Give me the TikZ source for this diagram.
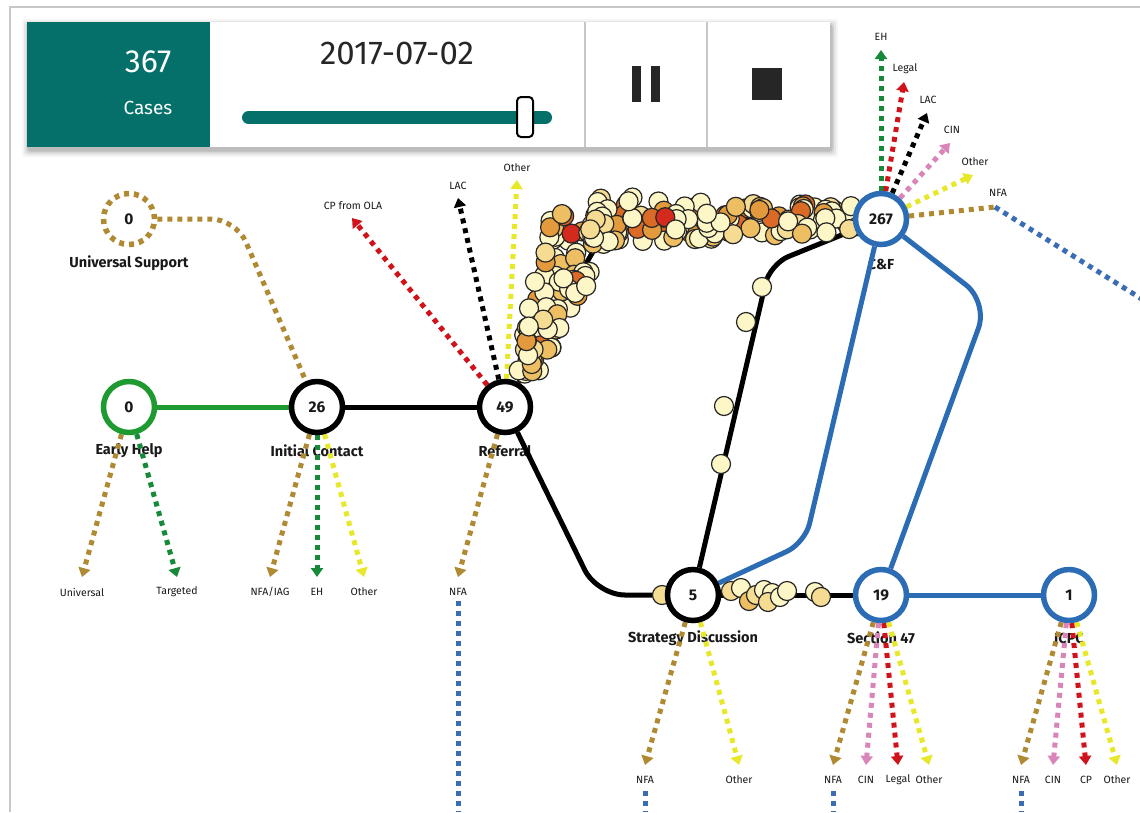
\documentclass[tikz,border=0pt]{standalone}
\usepackage{fontspec}
\setmainfont{Fira Sans}
\usetikzlibrary{arrows.meta,calc}
\definecolor{teal1}{HTML}{05706A}
\definecolor{brownc}{HTML}{B08A33}
\definecolor{greenc}{HTML}{178A3A}
\definecolor{yellowc}{HTML}{E8E82A}
\definecolor{redc}{HTML}{D0121B}
\definecolor{pinkc}{HTML}{DA85BA}
\definecolor{bluec}{HTML}{3A6DB3}
\definecolor{greenL}{HTML}{1E9A31}
\definecolor{blueL}{HTML}{2B6CB5}
\definecolor{dc1}{HTML}{FDF6C6}
\definecolor{dc2}{HTML}{F5DC92}
\definecolor{dc3}{HTML}{EDBE62}
\definecolor{dc4}{HTML}{E39A3C}
\definecolor{dc5}{HTML}{DA6A25}
\definecolor{dc6}{HTML}{D42A1E}
\pgfdeclarelayer{bg}
\pgfdeclarelayer{lbl}
\pgfdeclarelayer{arr}
\pgfdeclarelayer{lns}
\pgfdeclarelayer{dts}
\pgfsetlayers{bg,lbl,arr,lns,dts,main}
\tikzset{
  stn/.style={circle, draw, line width=5.5pt, fill=white, minimum size=51pt, inner sep=0pt,
    font=\fontsize{15.5}{15.5}\selectfont\bfseries, text=black!90},
  blk/.style={draw=black},
  grn/.style={draw=greenL},
  blu/.style={draw=blueL},
  slbl/.style={font=\fontsize{14.5}{14.5}\selectfont\bfseries, text=black!90, inner sep=1pt},
  small/.style={font=\fontsize{10.5}{10.5}\selectfont, text=black!90, inner sep=2pt},
  darr/.style={line width=5pt, dash pattern=on 5pt off 5pt, -{Triangle[width=12pt,length=9pt]}},
  dline/.style={line width=5pt, dash pattern=on 5pt off 5pt},
  sline/.style={line width=5pt, line join=round},
  dotc/.style={draw=black!85, line width=1.2pt},
}
\begin{document}
\begin{tikzpicture}[x=1pt,y=-1pt]
\useasboundingbox (0,0) rectangle (1140,812);
\begin{pgfonlayer}{bg}
\fill[white] (0,0) rectangle (1140,812);
\draw[black!22, line width=1.5pt] (10,812) -- (10,7) -- (1140,7);
\end{pgfonlayer}

% stations
\node[stn,grn] (eh) at (129,407) {0};
\node[stn,blk] (ic) at (317,407) {26};
\node[stn,blk] (ref) at (505,407) {49};
\node[stn,blk] (sd) at (693,595) {5};
\node[stn,blu] (s47) at (881,595) {19};
\node[stn,blu] (icpc) at (1069,595) {1};
\node[stn,blu] (cf) at (881,219) {267};
\node[stn, draw=brownc, dash pattern=on 5pt off 5pt] (us) at (129,219) {0};

% station labels
\begin{pgfonlayer}{lbl}
\node[slbl] (lus) at (129,263) {Universal Support};
\node[slbl] (leh) at (129,451) {Early Help};
\node[slbl] (lic) at (317,451) {Initial Contact};
\node[slbl] (lref) at (505,451) {Referral};
\node[slbl] (lcf) at (881,264) {C\&F};
\node[slbl] (lsd) at (693,638) {Strategy Discussion};
\node[slbl] (ls47) at (881,638) {Section 47};
\node[slbl] (licpc) at (1069,638) {ICPC};
\end{pgfonlayer}

% outcome tips and labels
\coordinate (tEU) at (82,577);   \coordinate (tET) at (177,577);
\coordinate (tIN) at (270,577);  \coordinate (tIE) at (317,577); \coordinate (tIO) at (364,577);
\coordinate (tRN) at (458,577);
\coordinate (rCP) at (352,218);  \coordinate (rLAC) at (458,198); \coordinate (rOth) at (517,180);
\coordinate (cEH) at (881,50);   \coordinate (cLg) at (904,82);   \coordinate (cLAC) at (927,113);
\coordinate (cCIN) at (950,143); \coordinate (cOth) at (973,175); \coordinate (cNFA) at (995,207);
\coordinate (cEnd) at (1145,301);
\coordinate (dN) at (645,765);   \coordinate (dO) at (739,765);
\coordinate (sN) at (833,765);   \coordinate (sC) at (866,765);   \coordinate (sL) at (898,765); \coordinate (sO) at (929,765);
\coordinate (pN) at (1021,765);  \coordinate (pC) at (1053,765);  \coordinate (pP) at (1086,765); \coordinate (pO) at (1117,765);
\coordinate (bR) at (458,812); \coordinate (bD) at (645,812); \coordinate (bS) at (833,812); \coordinate (bP) at (1021,812);

\begin{pgfonlayer}{lbl}
\node[small] (lEU) at (82,592) {Universal};
\node[small] (lET) at (177,592) {Targeted};
\node[small] (lIN) at (270,592) {NFA/IAG};
\node[small] (lIE) at (317,592) {EH};
\node[small] (lIO) at (364,592) {Other};
\node[small] (lRN) at (458,592) {NFA};
\node[small] (lrCP) at (353,206) {CP from OLA};
\node[small] (lrLAC) at (458,186) {LAC};
\node[small] (lrOth) at (517,168) {Other};
\node[small] (lcEH) at (881,37) {EH};
\node[small] (lcLg) at (905,69) {Legal};
\node[small] (lcLAC) at (928,100) {LAC};
\node[small] (lcCIN) at (952,130) {CIN};
\node[small] (lcOth) at (975,162) {Other};
\node[small] (lcNFA) at (998,193) {NFA};
\node[small] (ldN) at (645,780) {NFA};
\node[small] (ldO) at (739,780) {Other};
\node[small] (lsN) at (833,780) {NFA};
\node[small] (lsC) at (866,780) {CIN};
\node[small] (lsL) at (898,780) {Legal};
\node[small] (lsO) at (929,780) {Other};
\node[small] (lpN) at (1021,780) {NFA};
\node[small] (lpC) at (1053,780) {CIN};
\node[small] (lpP) at (1086,780) {CP};
\node[small] (lpO) at (1117,780) {Other};
\end{pgfonlayer}

% dotted outcome arrows
\begin{pgfonlayer}{arr}
\draw[dline, brownc, rounded corners=25pt] (us) -- (236,219) -- (ic);
\draw[darr, brownc] (eh) -- (tEU);
\draw[darr, greenc] (eh) -- (tET);
\draw[darr, brownc] (ic) -- (tIN);
\draw[darr, greenc] (ic) -- (tIE);
\draw[darr, yellowc] (ic) -- (tIO);
\draw[darr, brownc] (ref) -- (tRN);
\draw[dline, bluec, shorten <=3pt] (lRN.south) -- (bR);
\draw[darr, redc] (ref) -- (rCP);
\draw[darr, black] (ref) -- (rLAC);
\draw[darr, yellowc] (ref) -- (rOth);
\draw[darr, greenc] (cf) -- (cEH);
\draw[darr, redc] (cf) -- (cLg);
\draw[darr, black] (cf) -- (cLAC);
\draw[darr, pinkc] (cf) -- (cCIN);
\draw[darr, yellowc] (cf) -- (cOth);
\draw[dline, brownc] (cf) -- (cNFA);
\draw[dline, bluec] (cNFA) -- (cEnd);
\draw[darr, brownc] (sd) -- (dN);
\draw[darr, yellowc] (sd) -- (dO);
\draw[darr, brownc] (s47) -- (sN);
\draw[darr, pinkc] (s47) -- (sC);
\draw[darr, redc] (s47) -- (sL);
\draw[darr, yellowc] (s47) -- (sO);
\draw[darr, brownc] (icpc) -- (pN);
\draw[darr, pinkc] (icpc) -- (pC);
\draw[darr, redc] (icpc) -- (pP);
\draw[darr, yellowc] (icpc) -- (pO);
\draw[dline, bluec, shorten <=5pt] (ldN.south) -- (bD);
\draw[dline, bluec, shorten <=5pt] (lsN.south) -- (bS);
\draw[dline, bluec, shorten <=5pt] (lpN.south) -- (bP);
\end{pgfonlayer}

% solid connectors
\begin{pgfonlayer}{lns}
\draw[sline, greenL] (eh) -- (ic);
\draw[sline] (ic) -- (ref);
\draw[sline, rounded corners=28pt] (ref) -- (597,595) -- (sd);
\draw[sline, rounded corners=28pt] (ref) -- (612,218) -- (cf);
\draw[sline, rounded corners=20pt] (sd) -- (770,264) -- (cf);
\draw[sline, blueL, rounded corners=20pt] (sd) -- (805,543) -- (cf);
\draw[sline, blueL, rounded corners=28pt] (cf) -- (988,302) -- (s47);
\draw[sline] (sd) -- (s47);
\draw[sline, blueL] (s47) -- (icpc);
\end{pgfonlayer}

% case dots
\begin{pgfonlayer}{dts}
\pgfmathsetseed{5}
\foreach \i in {1,...,95}{
  \pgfmathsetmacro\t{rnd}
  \pgfmathsetmacro\s{2*rnd-1}
  \pgfmathsetmacro\w{10+26*\t}
  \pgfmathsetmacro\cx{522+64*\t+0.929*\s*\w}
  \pgfmathsetmacro\cy{380-165*\t+0.373*\s*\w}
  \pgfmathsetmacro\r{rnd}
  \pgfmathtruncatemacro\ci{\r<0.48?1:(\r<0.63?2:(\r<0.76?3:(\r<0.88?4:(\r<0.97?5:6))))}
  \draw[dotc, fill=dc\ci] (\cx,\cy) circle[radius=9.5];
}
\foreach \i in {1,...,130}{
  \pgfmathsetmacro\u{rnd}
  \pgfmathsetmacro\cx{588+270*\u}
  \pgfmathsetmacro\cy{219+(2*rnd-1)*(25-11*\u)}
  \pgfmathsetmacro\r{rnd}
  \pgfmathtruncatemacro\ci{\r<0.48?1:(\r<0.63?2:(\r<0.76?3:(\r<0.88?4:(\r<0.97?5:6))))}
  \draw[dotc, fill=dc\ci] (\cx,\cy) circle[radius=9.5];
}
\foreach \x/\y/\c in {762/287/1, 746/322/1, 724/406/1, 721/464/1,
  662/595/2, 731/591/2, 741/588/1, 749/601/3, 756/595/2, 764/590/1, 772/593/1,
  768/602/2, 780/597/1, 787/591/1, 815/592/1, 821/597/2}{
  \draw[dotc, fill=dc\c] (\x,\y) circle[radius=9.5];
}
\end{pgfonlayer}

% control panel
\foreach \d/\o in {7/0.04,5/0.06,3/0.08,1.5/0.1}{
  \fill[black, opacity=\o, rounded corners=3pt] (27-\d+2,22-\d+4) rectangle (830+\d+1,147+\d+3);
}
\fill[white] (27,22) rectangle (830,147);
\fill[teal1] (27,22) rectangle (210,147);
\node[text=white, font=\fontsize{32}{32}\selectfont] (cnt) at (148,62) {367};
\node[text=white, font=\fontsize{19}{19}\selectfont] (cases) at (148,108) {Cases};
\node[text=black!85, font=\fontsize{33}{33}\selectfont] (date) at (397,53) {2017-07-02};
\draw[teal1, line width=13pt, line cap=round] (248.5,117.5) -- (545.5,117.5);
\draw[black, line width=2pt, fill=white, rounded corners=4pt] (517,97) rectangle (533,137);
\draw[black!22, line width=1.2pt] (585,22) -- (585,147);
\draw[black!22, line width=1.2pt] (707,22) -- (707,147);
\fill[black!85] (632,66) rectangle (641,102);
\fill[black!85] (651,66) rectangle (660,102);
\fill[black!85] (752,68) rectangle (782,100);
\end{tikzpicture}
\end{document}
